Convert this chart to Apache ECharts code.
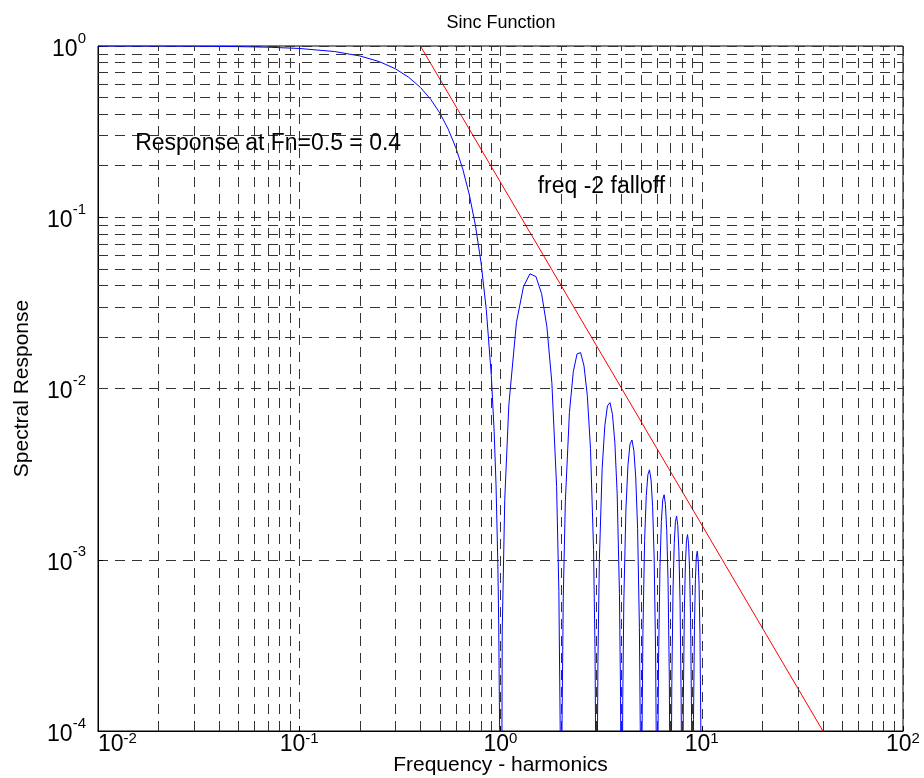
<!DOCTYPE html>
<html>
<head>
<meta charset="utf-8">
<title>Sinc Function</title>
<script src="https://cdn.jsdelivr.net/npm/echarts@6/dist/echarts.min.js"></script>
<style>
  html, body { margin: 0; padding: 0; background: #fff; }
  #chart { width: 924px; height: 778px; }
</style>
</head>
<body>
<div id="chart"></div>
<script>
// main lobe (values below 1e-4 fall under the axis)
const mainFreq = [0.01, 0.02, 0.03, 0.05, 0.07, 0.1, 0.15, 0.2, 0.25, 0.3, 0.35, 0.4, 0.45, 0.5,
    0.55, 0.6, 0.65, 0.7, 0.75, 0.8, 0.85, 0.9, 0.93, 0.95, 0.97, 0.98, 0.99, 1.0];
const mainResp = [0.9997, 0.9987, 0.997, 0.9918, 0.984, 0.9675, 0.9281, 0.8751, 0.8106, 0.7368, 0.6566, 0.5728, 0.4881, 0.4053,
    0.3267, 0.2546, 0.1904, 0.1353, 0.0901, 0.0547, 0.0289, 0.01195, 0.00558, 0.00275, 0.000954, 0.000416, 0.000102, 1e-7];

// side lobes 1..10
const lobeFreq = [
    1.02, 1.05, 1.1, 1.2, 1.3, 1.4, 1.5, 1.6, 1.7, 1.8, 1.9, 1.95, 1.98, 2,
    2.02, 2.05, 2.1, 2.2, 2.3, 2.4, 2.5, 2.6, 2.7, 2.8, 2.9, 2.95, 2.98, 3,
    3.02, 3.05, 3.1, 3.2, 3.3, 3.4, 3.5, 3.6, 3.7, 3.8, 3.9, 3.95, 3.98, 4,
    4.02, 4.05, 4.1, 4.2, 4.3, 4.4, 4.5, 4.6, 4.7, 4.8, 4.9, 4.95, 4.98, 5,
    5.05, 5.1, 5.2, 5.3, 5.4, 5.5, 5.6, 5.7, 5.8, 5.9, 5.95, 6,
    6.05, 6.1, 6.2, 6.3, 6.4, 6.5, 6.6, 6.7, 6.8, 6.9, 6.95, 7,
    7.05, 7.1, 7.2, 7.3, 7.4, 7.5, 7.6, 7.7, 7.8, 7.9, 7.95, 8,
    8.05, 8.1, 8.2, 8.3, 8.4, 8.5, 8.6, 8.7, 8.8, 8.9, 8.95, 9,
    9.05, 9.1, 9.2, 9.3, 9.4, 9.5, 9.6, 9.7, 9.8, 9.9, 9.95, 10
];
const lobeResp = [
    3.84e-4, 2.249e-3, 7.996e-3, 0.02431, 0.03924, 0.04676, 0.04503, 0.0358, 0.02295, 0.0108, 2.68e-3, 6.52e-4, 1.019e-4, 1e-7,
    9.79e-5, 5.9e-4, 2.194e-3, 7.233e-3, 0.012536, 0.015911, 0.016211, 0.013557, 9.097e-3, 4.465e-3, 1.15e-3, 2.849e-4, 4.5e-5, 1e-7,
    4.38e-5, 2.665e-4, 1.0068e-3, 3.419e-3, 6.09e-3, 7.928e-3, 8.271e-3, 7.071e-3, 4.844e-3, 2.424e-3, 6.36e-4, 1.589e-4, 2.52e-5, 1e-7,
    2.47e-5, 1.512e-4, 5.756e-4, 1.984e-3, 3.587e-3, 4.734e-3, 5.004e-3, 4.331e-3, 3.002e-3, 1.519e-3, 4.03e-4, 1.012e-4, 1.61e-5, 1e-7,
    9.72e-5, 3.72e-4, 1.2946e-3, 2.361e-3, 3.143e-3, 3.349e-3, 2.922e-3, 2.041e-3, 1.0406e-3, 2.78e-4, 7.0e-5, 1e-7,
    6.77e-5, 2.6e-4, 9.107e-4, 1.6709e-3, 2.2375e-3, 2.398e-3, 2.104e-3, 1.4773e-3, 7.57e-4, 2.032e-4, 5.13e-5, 1e-7,
    4.99e-5, 1.919e-4, 6.753e-4, 1.2444e-3, 1.6736e-3, 1.8012e-3, 1.5867e-3, 1.1185e-3, 5.754e-4, 1.55e-4, 3.92e-5, 1e-7,
    3.83e-5, 1.475e-4, 5.206e-4, 9.626e-4, 1.2988e-3, 1.4024e-3, 1.2391e-3, 8.761e-4, 4.52e-4, 1.2215e-4, 3.1e-5, 1e-7,
    3.03e-5, 1.1684e-4, 4.136e-4, 7.667e-4, 1.0372e-3, 1.1227e-3, 9.944e-4, 7.048e-4, 3.645e-4, 9.87e-5, 2.5e-5, 1e-7
];

// freq^-2 reference line
const falloffFreq = [0.4, 40];
const falloffResp = [1, 1e-4];

// text annotations (data coords, left-middle anchored)
const noteText = ['Response at Fn=0.5 = 0.4', 'freq -2 falloff'];
const noteFreq = [0.0153, 1.53];
const noteResp = [0.27, 0.15];

const xDecades = [0.01, 0.1, 1, 10];
const yDecades = [1e-4, 1e-3, 1e-2, 1e-1];
const minorMult = [2, 3, 4, 5, 6, 7, 8, 9];

const FONT = '"Liberation Sans", Arial, Helvetica, sans-serif';
const gridDash = { type: [10, 7], color: '#333', width: 1 };

const sincData = mainFreq.map((f, i) => [f, mainResp[i]])
    .concat(lobeFreq.map((f, i) => [f, lobeResp[i]]));
const falloffData = falloffFreq.map((f, i) => [f, falloffResp[i]]);

const minorLines = [];
xDecades.forEach(d => minorMult.forEach(m => minorLines.push({ xAxis: +(d * m).toPrecision(3) })));
yDecades.forEach(d => minorMult.forEach(m => minorLines.push({ yAxis: +(d * m).toPrecision(3) })));

const powLabel = v => '{b|10}{e|' + Math.round(Math.log10(v)) + '}';

const chart = echarts.init(document.getElementById('chart'));
chart.setOption({
    animation: false,
    backgroundColor: '#fff',
    textStyle: { fontFamily: FONT },
    title: {
        text: 'Sinc Function',
        left: 496,
        textAlign: 'center',
        top: 9,
        textStyle: { fontFamily: FONT, fontSize: 18, fontWeight: 'normal', color: '#000' }
    },
    grid: {
        left: 98, top: 46, right: 21, bottom: 47,
        outerBoundsMode: 'none',
        show: true, borderColor: '#000', borderWidth: 1, backgroundColor: '#fff'
    },
    xAxis: {
        type: 'log', logBase: 10, min: 0.01, max: 100,
        name: 'Frequency - harmonics',
        nameLocation: 'middle', nameGap: 24,
        nameMoveOverlap: false,
        nameTextStyle: { fontFamily: FONT, fontSize: 21, color: '#000' },
        axisLine: { show: true, lineStyle: { color: '#000' } },
        axisTick: { show: true, inside: true, length: 5, lineStyle: { color: '#000' } },
        splitLine: { show: true, lineStyle: gridDash },
        axisLabel: {
            formatter: powLabel, margin: 0, showMinLabel: true, showMaxLabel: true,
            alignMinLabel: 'left',
            rich: {
                b: { fontFamily: FONT, fontSize: 23, color: '#000', lineHeight: 25, verticalAlign: 'bottom' },
                e: { fontFamily: FONT, fontSize: 15, color: '#000', lineHeight: 15, verticalAlign: 'top' }
            }
        }
    },
    yAxis: {
        type: 'log', logBase: 10, min: 1e-4, max: 1,
        name: 'Spectral Response',
        nameLocation: 'middle', nameGap: 65,
        nameMoveOverlap: false,
        nameTextStyle: { fontFamily: FONT, fontSize: 21, color: '#000' },
        axisLine: { show: true, lineStyle: { color: '#000' } },
        axisTick: { show: true, inside: true, length: 5, lineStyle: { color: '#000' } },
        splitLine: { show: true, lineStyle: gridDash },
        axisLabel: {
            formatter: powLabel, margin: 12, showMinLabel: true, showMaxLabel: true,
            rich: {
                b: { fontFamily: FONT, fontSize: 23, color: '#000', lineHeight: 30, verticalAlign: 'bottom' },
                e: { fontFamily: FONT, fontSize: 15, color: '#000', lineHeight: 15, verticalAlign: 'top' }
            }
        }
    },
    series: [
        {
            name: 'grid',
            type: 'line',
            data: [],
            silent: true,
            z: 1,
            markLine: {
                silent: true,
                symbol: ['none', 'none'],
                label: { show: false },
                lineStyle: gridDash,
                emphasis: { disabled: true },
                data: minorLines
            }
        },
        {
            name: 'sinc',
            type: 'line',
            data: sincData,
            showSymbol: false,
            clip: true,
            z: 3,
            lineStyle: { color: '#0000ff', width: 1 }
        },
        {
            name: 'falloff',
            type: 'line',
            data: falloffData,
            showSymbol: false,
            clip: true,
            z: 3,
            lineStyle: { color: '#ff0000', width: 1 }
        }
    ]
});

// place the annotations at their data coordinates
chart.setOption({
    graphic: noteText.map((t, i) => {
        const p = chart.convertToPixel({ gridIndex: 0 }, [noteFreq[i], noteResp[i]]);
        return {
            type: 'text', x: p[0], y: p[1], z: 10,
            style: { text: t, fontFamily: FONT, fontSize: 23, fill: '#000', verticalAlign: 'middle', align: 'left' }
        };
    })
});
</script>
</body>
</html>
